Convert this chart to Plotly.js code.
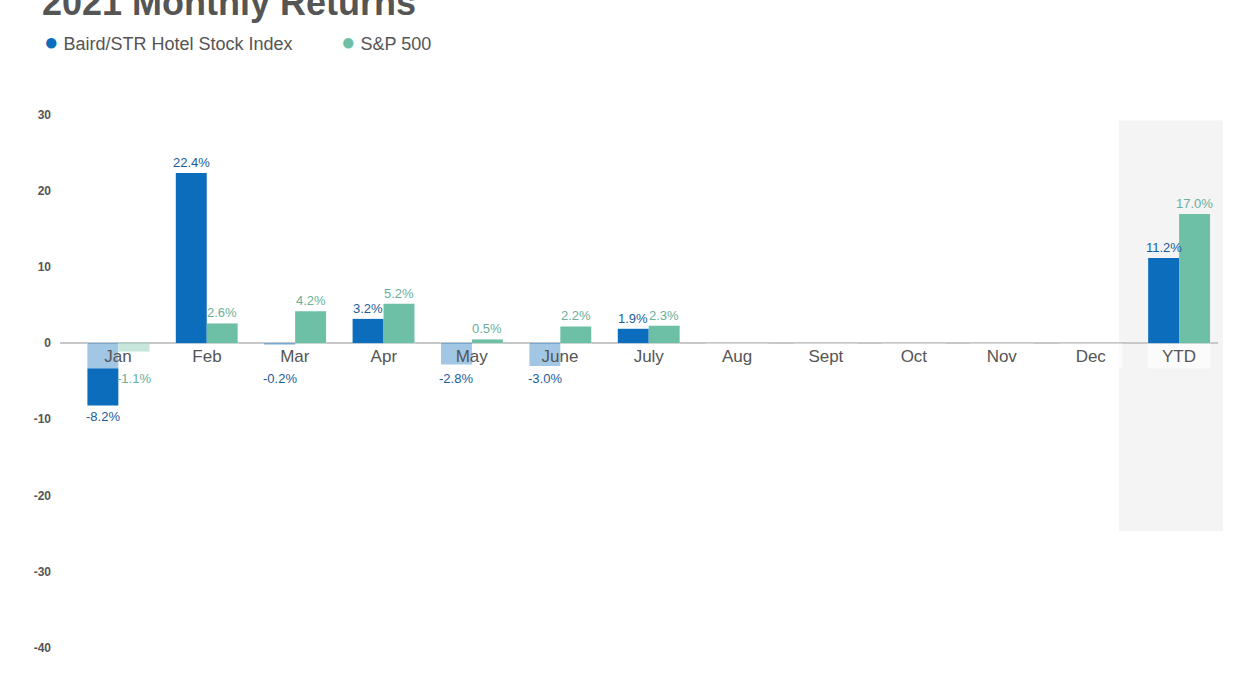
<!DOCTYPE html>
<html>
<head>
<meta charset="utf-8">
<script src="https://cdn.plot.ly/plotly-3.0.1.min.js"></script>
<style>html,body{margin:0;padding:0;background:#fff;}#chart{width:1245px;height:700px;}</style>
</head>
<body>
<div id="chart"></div>
<script>
const categories = ['Jan','Feb','Mar','Apr','May','June','July','Aug','Sept','Oct','Nov','Dec','YTD'];
const bairdValues = [-8.2, 22.4, -0.2, 3.2, -2.8, -3.0, 1.9, null, null, null, null, null, 11.2];
const spValues = [-1.1, 2.6, 4.2, 5.2, 0.5, 2.2, 2.3, null, null, null, null, null, 17.0];
const yTicks = [-40, -30, -20, -10, 0, 10, 20, 30];
const yTickLabels = ['-40', '-30', '-20', '-10', '0', '10', '20', '30'];
const seriesNames = ['Baird/STR Hotel Stock Index', 'S&P 500'];

const FONT = '"Liberation Sans Narrow", "Liberation Sans", "DejaVu Sans", sans-serif';
const BLUE = '#0b6dbb', GREEN = '#6dbfa5';
const fmt = v => v.toFixed(1) + '%';

const traces = [
  {type:'bar', name:seriesNames[0], x:categories, y:bairdValues, marker:{color:BLUE}, showlegend:false, hoverinfo:'skip'},
  {type:'bar', name:seriesNames[1], x:categories, y:spValues, marker:{color:GREEN}, showlegend:false, hoverinfo:'skip'}
];

const L = 60, R = 27, T = 109, B = 45.3;
const plotW = 1245 - L - R, plotH = 700 - T - B;
const px2paperX = p => (p - L) / plotW;
const px2paperY = p => (700 - B - p) / plotH;
const BOX_BOTTOM = -3.3; // data depth covered by the category label boxes

const annotations = categories.map(c => ({
  x:c, y:0, xref:'x', yref:'y', yanchor:'top', xanchor:'center', showarrow:false,
  text:c, width:62, height:24, bgcolor:'rgba(255,255,255,0.62)', borderpad:0,
  font:{family:FONT, size:17, color:'#555', stretch:'condensed'}
}));

// value labels
[[bairdValues, -15.5, '#1a5c9c'], [spValues, 15.5, '#6aaf9c']].forEach(([vals, shift, col]) => {
  vals.forEach((v, i) => {
    if (v === null) return;
    const neg = v < 0;
    annotations.push({
      x:categories[i], y: neg ? Math.min(v, BOX_BOTTOM) : v, xref:'x', yref:'y',
      xshift: shift, yshift: neg ? -1 : 1,
      yanchor: neg ? 'top' : 'bottom', xanchor:'center', showarrow:false,
      text: fmt(v), font:{family:FONT, size:13, color:col, stretch:'condensed'}
    });
  });
});

annotations.push({
  xref:'paper', yref:'paper', x:px2paperX(42), y:px2paperY(42), xanchor:'left', yanchor:'middle', showarrow:false,
  text:'<span style="color:'+BLUE+';font-size:24px">●</span> '+seriesNames[0], font:{family:FONT, size:18, color:'#555', stretch:'condensed'}
});
annotations.push({
  xref:'paper', yref:'paper', x:px2paperX(339), y:px2paperY(42), xanchor:'left', yanchor:'middle', showarrow:false,
  text:'<span style="color:'+GREEN+';font-size:24px">●</span> '+seriesNames[1], font:{family:FONT, size:18, color:'#555', stretch:'condensed'}
});

const layout = {
  width:1245, height:700,
  margin:{l:L, r:R, t:T, b:B},
  paper_bgcolor:'#fff', plot_bgcolor:'rgba(0,0,0,0)',
  title:{text:'<b>2021 Monthly Returns</b>', x:42/1245, xanchor:'left', xref:'container', yref:'container', y:1-2/700, yanchor:'middle',
         font:{family:FONT, size:36, color:'#555', stretch:'condensed'}},
  barmode:'group', bargap:0.3, bargroupgap:0,
  xaxis:{type:'category', range:[-0.66, 12.44], showticklabels:false, showgrid:false, zeroline:false, showline:false, fixedrange:true},
  yaxis:{range:[-41, 30.8], tickvals:yTicks, ticktext:yTickLabels, showgrid:false, zeroline:true, zerolinecolor:'#c8c8c8', zerolinewidth:1.5,
         showline:false, ticks:'', ticklabelstandoff:8, tickfont:{family:FONT, size:12, color:'#555', weight:'bold', stretch:'condensed'}},
  shapes:[{type:'rect', xref:'paper', yref:'y', x0:px2paperX(1119), x1:px2paperX(1223), y0:-24.7, y1:29.3,
           fillcolor:'#f4f4f4', line:{width:0}, layer:'below'}],
  annotations:annotations,
  showlegend:false,
  font:{family:FONT}
};

Plotly.newPlot('chart', traces, layout, {displayModeBar:false, staticPlot:true});
</script>
</body>
</html>
